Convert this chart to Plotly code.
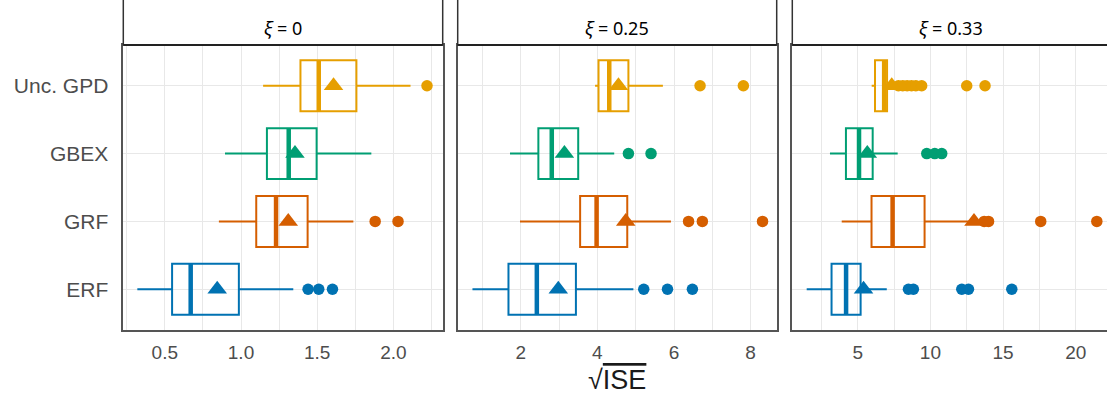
import plotly.graph_objects as go

# ---------------- data ----------------
methods = ["ERF", "GRF", "GBEX", "Unc. GPD"]          # bottom -> top
method_colors = ["#0072B2", "#D55E00", "#009E73", "#E69F00"]
xi_labels = ["0", "0.25", "0.33"]

# per panel (xi = 0, 0.25, 0.33), per method (ERF, GRF, GBEX, Unc. GPD)
lower_whisker = [
    [0.32, 0.855, 0.895, 1.145],
    [0.74, 1.98, 1.72, 3.94],
    [1.49, 3.90, 3.09, 5.96],
]
q1 = [
    [0.548, 1.10, 1.17, 1.39],
    [1.68, 3.55, 2.46, 4.03],
    [3.20, 5.95, 4.19, 6.19],
]
median = [
    [0.67, 1.23, 1.313, 1.51],
    [2.42, 3.98, 2.81, 4.31],
    [4.20, 7.40, 5.09, 6.82],
]
q3 = [
    [0.986, 1.437, 1.496, 1.757],
    [3.44, 4.78, 3.50, 4.81],
    [5.20, 9.60, 6.03, 7.02],
]
upper_whisker = [
    [1.343, 1.737, 1.855, 2.112],
    [4.94, 5.92, 4.44, 5.71],
    [7.00, 12.80, 7.75, 7.50],
]
mean = [
    [0.844, 1.31, 1.354, 1.607],
    [2.98, 4.74, 3.14, 4.55],
    [5.40, 13.00, 5.66, 7.34],
]
outliers = [
    [[1.44, 1.51, 1.60], [1.88, 2.03], [], [2.22]],
    [[5.21, 5.83, 6.48], [6.38, 6.74, 8.31], [4.81, 5.40], [6.68, 7.81]],
    [[8.49, 8.83, 12.16, 12.62, 15.60], [13.70, 14.00, 17.59, 21.45],
     [9.75, 10.30, 10.78], [7.80, 8.10, 8.40, 8.70, 9.00, 9.40, 12.50, 13.76]],
]
x_ranges = [[0.228, 2.323], [0.355, 8.68], [0.5, 22.15]]
x_dticks = [0.5, 2, 5]
x_tick0 = [0, 0, 0]

# ---------------- layout geometry ----------------
W, H = 1107, 398
ML, MR, MT, MB = 123, 0, 45, 68
PW = W - ML - MR
PH = H - MT - MB
panel_px = [(123.3, 442.7), (457.7, 776.7), (792.3, 1107)]
domains = [[(a - ML) / PW, min(1.0, (b - ML) / PW)] for a, b in panel_px]

BOXW = 0.75
positions = [1, 2, 3, 4]

fig = go.Figure()

for p in range(3):
    xa = "x" if p == 0 else f"x{p+1}"
    ya = "y" if p == 0 else f"y{p+1}"
    for m in range(4):
        col = method_colors[m]
        pos = positions[m]
        fig.add_trace(go.Box(
            y=[pos], q1=[q1[p][m]], median=[median[p][m]], q3=[q3[p][m]],
            lowerfence=[lower_whisker[p][m]], upperfence=[upper_whisker[p][m]],
            orientation="h", width=BOXW, whiskerwidth=0,
            fillcolor="rgba(255,255,255,0)", line=dict(color=col, width=2),
            boxpoints=False, hoverinfo="skip", showlegend=False,
            xaxis=xa, yaxis=ya,
        ))
        # thick median line
        fig.add_trace(go.Scatter(
            x=[median[p][m], median[p][m]],
            y=[pos - BOXW / 2, pos + BOXW / 2],
            mode="lines", line=dict(color=col, width=4.5),
            hoverinfo="skip", showlegend=False, xaxis=xa, yaxis=ya,
        ))
        # outliers
        if outliers[p][m]:
            fig.add_trace(go.Scatter(
                x=outliers[p][m], y=[pos] * len(outliers[p][m]),
                mode="markers", marker=dict(color=col, size=11.5, symbol="circle"),
                hoverinfo="skip", showlegend=False, xaxis=xa, yaxis=ya,
            ))
        # mean
        fig.add_trace(go.Scatter(
            x=[mean[p][m]], y=[pos],
            mode="markers", marker=dict(color=col, size=17, symbol="triangle-up"),
            hoverinfo="skip", showlegend=False, xaxis=xa, yaxis=ya,
        ))

GRID = "#E8E8E8"
AXLINE = "#555555"
tickfont = dict(family="Liberation Sans, Arial, sans-serif", size=19, color="#4D4D4D")

layout = dict(
    width=W, height=H,
    margin=dict(l=ML, r=MR, t=MT, b=MB, pad=0),
    plot_bgcolor="white", paper_bgcolor="white",
    showlegend=False,
)
for p in range(3):
    xk = "xaxis" if p == 0 else f"xaxis{p+1}"
    yk = "yaxis" if p == 0 else f"yaxis{p+1}"
    layout[xk] = dict(
        domain=domains[p], range=x_ranges[p], anchor="y" if p == 0 else f"y{p+1}",
        tick0=x_tick0[p], dtick=x_dticks[p], showgrid=True, gridcolor=GRID, gridwidth=1,
        minor=dict(dtick=x_dticks[p] / 2, tick0=x_tick0[p], showgrid=True,
                   gridcolor=GRID, gridwidth=1),
        zeroline=False, showline=True, linecolor=AXLINE, linewidth=1.5,
        mirror=True, ticks="", tickfont=tickfont,
        tickformat=".1f" if p == 0 else "d",
        ticklabelstandoff=4,
    )
    layout[yk] = dict(
        domain=[0, 1], range=[0.4, 4.6], anchor="x" if p == 0 else f"x{p+1}",
        tickvals=positions, ticktext=methods, showticklabels=(p == 0),
        showgrid=True, gridcolor=GRID, gridwidth=1,
        zeroline=False, showline=True, linecolor=AXLINE, linewidth=1.5,
        mirror=(p < 2), ticks="",
        tickfont=dict(family="Liberation Sans, Arial, sans-serif", size=21, color="#4D4D4D"),
        ticklabelstandoff=9,
    )
fig.update_layout(**layout)

# strips
shapes = []
annotations = []
for p in range(3):
    xr = "x domain" if p == 0 else f"x{p+1} domain"
    shapes.append(dict(type="rect", xref=xr, yref="paper", x0=0, x1=1 if p < 2 else 1.2,
                       y0=1, y1=1.4, line=dict(color="#333333", width=1.5),
                       fillcolor="white", layer="above"))
    shapes.append(dict(type="line", xref=xr, yref="paper", x0=0, x1=1,
                       y0=1, y1=1, line=dict(color="#222222", width=2), layer="above"))
    annotations.append(dict(
        xref=xr, yref="paper", x=0.5 if p < 2 else (951 - panel_px[2][0]) / (panel_px[2][1] - panel_px[2][0]),
        y=1 + 17 / PH, yanchor="middle", xanchor="center", showarrow=False,
        text=f"<i>ξ</i> = {xi_labels[p]}",
        font=dict(family="Noto Sans, Open Sans, sans-serif", size=18, color="#000000"),
    ))
annotations.append(dict(
    xref="x2 domain", yref="paper", x=0.5, y=-50 / PH, yanchor="middle", xanchor="center",
    showarrow=False,
    text='√<span style="text-decoration:overline">ISE</span>',
    font=dict(family="Liberation Sans, Arial, sans-serif", size=27, color="#1A1A1A"),
))
fig.update_layout(shapes=shapes, annotations=annotations)

fig.write_html("out.html")
